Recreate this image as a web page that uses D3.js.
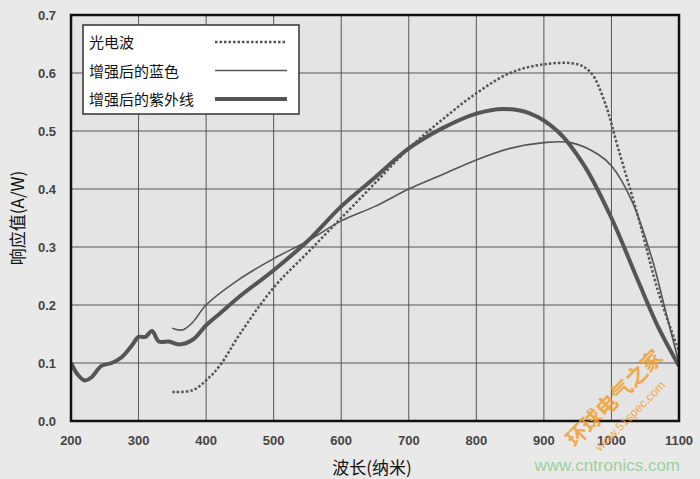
<!DOCTYPE html>
<html><head><meta charset="utf-8">
<script src="https://cdn.jsdelivr.net/npm/d3@7"></script>
<style>body{margin:0;background:#e9e9e9;font-family:"Liberation Sans",Arial,sans-serif}</style>
</head><body><div id="chart"></div>
<script>
const seriesNames = ['光电波', '增强后的蓝色', '增强后的紫外线'];
const photoX = [350,380,400,420,450,500,550,600,650,700,750,800,850,900,950,970,990,1010,1040,1070,1100];
const photoY = [0.05,0.053,0.07,0.095,0.15,0.23,0.29,0.35,0.41,0.47,0.52,0.565,0.6,0.615,0.615,0.6,0.55,0.47,0.35,0.22,0.12];
const blueX = [350,365,380,400,450,500,550,600,650,700,750,800,850,900,940,980,1000,1030,1060,1080,1100];
const blueY = [0.16,0.157,0.17,0.2,0.245,0.28,0.31,0.345,0.37,0.4,0.425,0.45,0.47,0.48,0.48,0.46,0.44,0.38,0.28,0.19,0.1];
const uvX = [200,210,220,230,245,260,275,290,300,310,320,330,345,360,380,400,420,450,500,550,600,650,700,750,800,840,880,920,960,1000,1040,1070,1100];
const uvY = [0.1,0.08,0.07,0.075,0.095,0.1,0.11,0.13,0.145,0.145,0.155,0.137,0.137,0.132,0.14,0.165,0.185,0.215,0.26,0.31,0.37,0.42,0.47,0.505,0.53,0.538,0.53,0.5,0.44,0.35,0.24,0.16,0.095];
const xTicks = [200,300,400,500,600,700,800,900,1000,1100];
const yTicks = [0,0.1,0.2,0.3,0.4,0.5,0.6,0.7];

const W = 700, H = 479;
const svg = d3.select('#chart').append('svg').attr('width', W).attr('height', H);
const x = d3.scaleLinear().domain([200, 1100]).range([71, 679]);
const y = d3.scaleLinear().domain([0, 0.7]).range([421, 15]);

svg.append('rect').attr('x', 71).attr('y', 15).attr('width', 608).attr('height', 406).attr('fill', '#e4e4e4');
svg.selectAll('.gx').data(xTicks).enter().append('line')
  .attr('x1', d => x(d)).attr('x2', d => x(d)).attr('y1', 15).attr('y2', 421)
  .attr('stroke', '#555').attr('stroke-width', 1);
svg.selectAll('.gy').data(yTicks).enter().append('line')
  .attr('y1', d => y(d)).attr('y2', d => y(d)).attr('x1', 71).attr('x2', 679)
  .attr('stroke', '#555').attr('stroke-width', 1);

svg.selectAll('.xt').data(xTicks).enter().append('text')
  .attr('x', d => x(d)).attr('y', 445).attr('text-anchor', 'middle')
  .attr('font-size', 13).attr('font-weight', 'bold').attr('fill', '#444').text(d => d);
svg.selectAll('.yt').data(yTicks).enter().append('text')
  .attr('x', 56).attr('y', d => y(d) + 5).attr('text-anchor', 'end')
  .attr('font-size', 13).attr('font-weight', 'bold').attr('fill', '#444').text(d => d.toFixed(1));

const line = d3.line().x(d => x(d[0])).y(d => y(d[1])).curve(d3.curveCatmullRom);
const clip = svg.append('clipPath').attr('id', 'c').append('rect').attr('x', 71).attr('y', 15).attr('width', 608).attr('height', 406);
const g = svg.append('g').attr('clip-path', 'url(#c)');
g.append('path').datum(d3.zip(photoX, photoY)).attr('d', line).attr('fill', 'none')
  .attr('stroke', '#555').attr('stroke-width', 2.5).attr('stroke-dasharray', '2.5,2');
g.append('path').datum(d3.zip(blueX, blueY)).attr('d', line).attr('fill', 'none')
  .attr('stroke', '#555').attr('stroke-width', 1.6);
g.append('path').datum(d3.zip(uvX, uvY)).attr('d', line).attr('fill', 'none')
  .attr('stroke', '#555').attr('stroke-width', 4);

svg.append('rect').attr('x', 71).attr('y', 15).attr('width', 608).attr('height', 406)
  .attr('fill', 'none').attr('stroke', '#111').attr('stroke-width', 2.5);

// legend
svg.append('rect').attr('x', 83).attr('y', 25).attr('width', 216).attr('height', 89)
  .attr('fill', '#fff').attr('stroke', '#333').attr('stroke-width', 1.5);
const styles = [{w: 2.5, dash: '2.5,2'}, {w: 1.6, dash: null}, {w: 4, dash: null}];
seriesNames.forEach((n, i) => {
  const yy = 42 + i * 28.5;
  svg.append('text').attr('x', 89).attr('y', yy + 6).attr('font-size', 15)
    .attr('font-family', '"Noto Sans CJK SC"').attr('fill', '#111').text(n);
  svg.append('line').attr('x1', 215).attr('x2', 287).attr('y1', yy).attr('y2', yy)
    .attr('stroke', '#555').attr('stroke-width', styles[i].w).attr('stroke-dasharray', styles[i].dash);
});

svg.append('text').attr('x', 372).attr('y', 474).attr('text-anchor', 'middle')
  .attr('font-size', 17).attr('font-family', '"Noto Sans CJK SC"').attr('fill', '#111').text('波长(纳米)');
svg.append('text').attr('transform', 'translate(24,218) rotate(-90)').attr('text-anchor', 'middle')
  .attr('font-size', 17).attr('font-family', '"Noto Sans CJK SC"').attr('fill', '#111').text('响应值(A/W)');

// watermarks
svg.append('text').attr('x', 680).attr('y', 471).attr('text-anchor', 'end').attr('font-size', 17)
  .attr('fill', '#8cc98c').attr('opacity', 0.8).text('www.cntronics.com');
svg.append('text').attr('transform', 'translate(575,448) rotate(-45)').attr('font-size', 21)
  .attr('font-family', '"Noto Sans CJK SC"').attr('font-weight', 'bold').attr('fill', '#f0a030').attr('opacity', 0.85).text('环球电气之家');
svg.append('text').attr('transform', 'translate(600,452) rotate(-45)').attr('font-size', 12)
  .attr('fill', '#f0a030').attr('opacity', 0.85).text('www.51spec.com');
</script></body></html>
